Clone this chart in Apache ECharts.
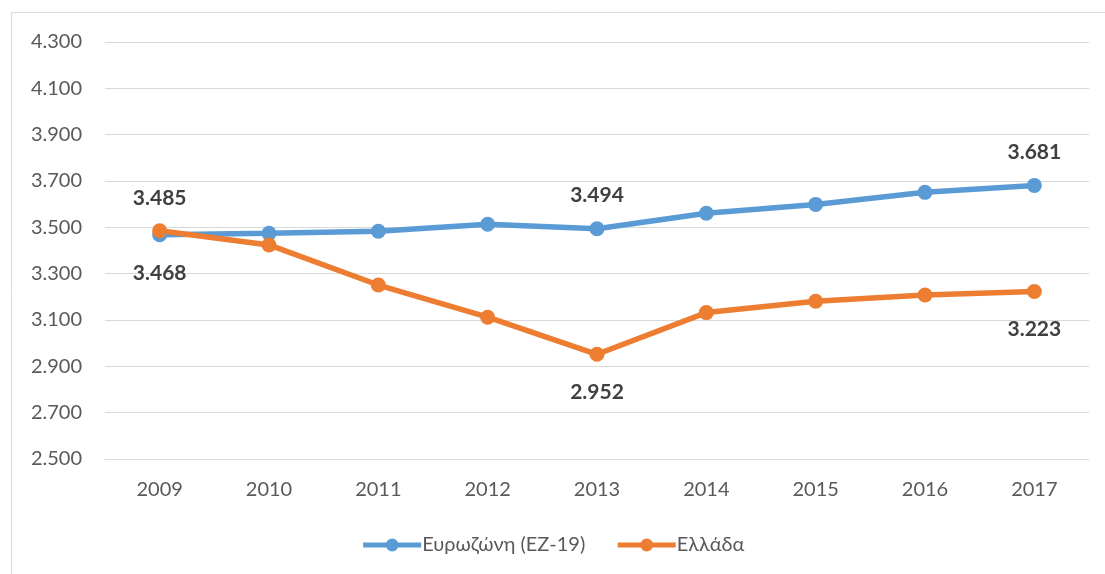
<!DOCTYPE html>
<html><head><meta charset="utf-8">
<script src="https://cdn.jsdelivr.net/npm/echarts@6/dist/echarts.min.js"></script>
<style>html,body{margin:0;padding:0;background:#fff}#c{width:1105px;height:574px}</style>
</head><body><div id="c"></div>
<script>
var categories = ['2009','2010','2011','2012','2013','2014','2015','2016','2017'];
var euroArea = [3468, 3474, 3483, 3513, 3494, 3561, 3599, 3651, 3681];
var greece = [3485, 3424, 3251, 3112, 2952, 3132, 3181, 3208, 3223];
var seriesNames = ['Ευρωζώνη (EZ-19)', 'Ελλάδα'];
var euroLabels = {0:'bottom', 4:'top', 8:'top'};
var greeceLabels = {0:'top', 4:'bottom', 8:'bottom'};

function fmt(v){ var s = String(Math.round(v)); return s.slice(0, s.length-3) + '.' + s.slice(-3); }
function build(arr, lbl){
  return arr.map(function(v,i){
    if (lbl[i]) {
      return {value: v, label: {show: true, position: lbl[i], distance: lbl[i]==='top' ? 15 : 20}};
    }
    return v;
  });
}
var font = 'Lato, "Open Sans", sans-serif';
var chart = echarts.init(document.getElementById('c'));
chart.setOption({
  animation: false,
  graphic: [{type:'rect', shape:{x:11.5, y:12.5, width:1200, height:1000}, style:{fill:'none', stroke:'#d9d9d9', lineWidth:1}}],
  grid: {left:105, right:16, top:42, bottom:115},
  legend: {
    bottom: 14, left: 'center', itemWidth: 58, itemHeight: 16, itemGap: 30,
    lineStyle: {width: 5},
    textStyle: {fontFamily: font, fontSize: 20, color: '#595959', padding: [0,0,0,-4]},
    data: seriesNames
  },
  xAxis: {
    type: 'category', data: categories, boundaryGap: true,
    axisLine: {lineStyle: {color: '#d9d9d9', width: 1}},
    axisTick: {alignWithLabel: true, length: 6, lineStyle: {color: '#d9d9d9'}},
    axisLabel: {fontFamily: font, fontSize: 20, color: '#595959', margin: 21}
  },
  yAxis: {
    type: 'value', min: 2500, max: 4300, interval: 200,
    axisLine: {show: false}, axisTick: {show: false},
    splitLine: {lineStyle: {color: '#d9d9d9', width: 1}},
    axisLabel: {fontFamily: font, fontSize: 20, color: '#595959', margin: 23, formatter: fmt}
  },
  series: [
    {name: seriesNames[0], type: 'line', data: build(euroArea, euroLabels), symbol: 'circle', symbolSize: 15,
     lineStyle: {color: '#5B9BD5', width: 5.5}, itemStyle: {color: '#5B9BD5'},
     label: {show: false, fontFamily: font, fontSize: 21, fontWeight: 'bold', color: '#404040', formatter: function(p){return fmt(p.value);}}},
    {name: seriesNames[1], type: 'line', data: build(greece, greeceLabels), symbol: 'circle', symbolSize: 15,
     lineStyle: {color: '#ED7D31', width: 5.5}, itemStyle: {color: '#ED7D31'},
     label: {show: false, fontFamily: font, fontSize: 21, fontWeight: 'bold', color: '#404040', formatter: function(p){return fmt(p.value);}}}
  ]
});
</script></body></html>
